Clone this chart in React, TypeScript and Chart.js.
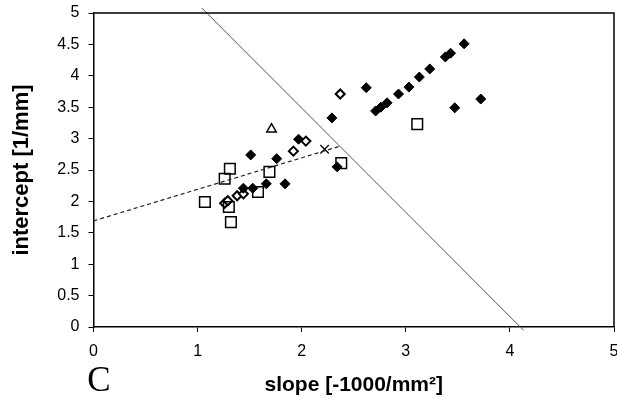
import React, { useEffect, useRef } from "react";
import { Chart, registerables } from "chart.js";

Chart.register(...registerables);

// Filled diamonds
const filledX = [1.51, 1.76, 1.66, 1.84, 1.97, 1.44, 1.53, 2.34, 2.29, 2.62, 2.71, 2.76, 2.82, 2.93, 3.03, 3.13, 3.23, 3.38, 3.43, 3.56, 3.47, 3.72];
const filledY = [2.74, 2.68, 2.28, 2.28, 2.99, 2.21, 2.21, 2.55, 3.33, 3.81, 3.44, 3.50, 3.57, 3.71, 3.82, 3.98, 4.11, 4.30, 4.36, 4.51, 3.49, 3.63];
// Open squares
const squareX = [1.31, 1.26, 1.69, 1.58, 1.07, 1.30, 1.32, 2.38, 3.11];
const squareY = [2.52, 2.36, 2.47, 2.15, 1.99, 1.91, 1.67, 2.61, 3.23];
// Open small diamonds / circles
const openX = [1.92, 2.04, 2.37, 1.38, 1.44, 1.26, 1.29];
const openY = [2.80, 2.96, 3.71, 2.09, 2.12, 1.97, 2.01];
// Triangle
const triX = [1.71];
const triY = [3.15];
// Cross
const crossX = [2.22];
const crossY = [2.83];
// Dashed regression line
const dashX = [0, 2.37];
const dashY = [1.69, 2.88];
// Solid separating line
const solidX = [1.04, 4.13];
const solidY = [5.08, -0.05];

const xTicks = [0, 1, 2, 3, 4, 5];
const yTicks = [0, 0.5, 1, 1.5, 2, 2.5, 3, 3.5, 4, 4.5, 5];

const pts = (xs: number[], ys: number[]) => xs.map((x, i) => ({ x, y: ys[i] }));

const FONT = "'Liberation Sans', Arial, sans-serif";
const CANVAS_W = 623;

const framePlugin = {
  id: "frame",
  afterDraw(chart: any) {
    const { ctx, chartArea } = chart;
    ctx.save();
    ctx.strokeStyle = "#000";
    ctx.lineWidth = 1.5;
    ctx.beginPath();
    ctx.moveTo(chartArea.left, chartArea.top);
    ctx.lineTo(chartArea.right, chartArea.top);
    ctx.lineTo(chartArea.right, chartArea.bottom);
    ctx.stroke();
    ctx.fillStyle = "#000";
    ctx.font = "35px 'Liberation Serif', 'Times New Roman', serif";
    ctx.textAlign = "center";
    ctx.textBaseline = "middle";
    ctx.fillText("C", 99, 382);
    ctx.restore();
  },
};

const zeroPad = (s: any) => {
  s.paddingTop = 0;
  s.paddingBottom = 0;
  s.paddingLeft = 0;
  s.paddingRight = 0;
};

export default function App() {
  const ref = useRef<HTMLCanvasElement>(null);

  useEffect(() => {
    if (!ref.current) return;
    const chart = new Chart(ref.current, {
      type: "scatter",
      data: {
        datasets: [
          {
            type: "line",
            data: pts(solidX, solidY),
            borderColor: "#555",
            borderWidth: 1,
            pointRadius: 0,
            clip: false as any,
          } as any,
          {
            type: "line",
            data: pts(dashX, dashY),
            borderColor: "#222",
            borderWidth: 1.2,
            borderDash: [4, 3],
            pointRadius: 0,
          } as any,
          {
            data: pts(squareX, squareY),
            pointStyle: "rect",
            pointRadius: 7.5,
            backgroundColor: "rgba(255,255,255,0)",
            borderColor: "#000",
            borderWidth: 1.5,
          },
          {
            data: pts(filledX, filledY),
            pointStyle: "rectRot",
            pointRadius: 5,
            backgroundColor: "#000",
            borderColor: "#000",
            borderWidth: 1,
          },
          {
            data: pts(openX, openY),
            pointStyle: "rectRot",
            pointRadius: 4.5,
            backgroundColor: "#fff",
            borderColor: "#000",
            borderWidth: 2,
          },
          {
            data: pts(triX, triY),
            pointStyle: "triangle",
            pointRadius: 5.5,
            backgroundColor: "#fff",
            borderColor: "#000",
            borderWidth: 1.5,
          },
          {
            data: pts(crossX, crossY),
            pointStyle: "crossRot",
            pointRadius: 6,
            borderColor: "#000",
            borderWidth: 1.2,
          },
        ],
      },
      options: {
        animation: false,
        responsive: false,
        events: [],
        layout: { padding: { top: 13, right: 4, left: 0, bottom: 0 } },
        plugins: { legend: { display: false }, tooltip: { enabled: false } },
        scales: {
          x: {
            type: "linear",
            min: 0,
            max: 5,
            afterBuildTicks: (s: any) => {
              s.ticks = xTicks.map((v) => ({ value: v }));
            },
            afterFit: (s: any) => {
              s.height = 408 - 327;
              zeroPad(s);
            },
            ticks: {
              color: "#000",
              font: { family: FONT, size: 16 },
              padding: 10,
              callback: (v: any) => String(v),
            },
            grid: {
              display: true,
              drawOnChartArea: false,
              drawTicks: true,
              tickLength: 5,
              color: "#000",
              lineWidth: 1,
            },
            border: { display: true, color: "#000", width: 1.5 },
            title: {
              display: true,
              text: "slope [-1000/mm²]",
              color: "#000",
              font: { family: FONT, size: 21, weight: "bold" },
              padding: { top: 0, bottom: 10 },
            },
          },
          y: {
            type: "linear",
            min: 0,
            max: 5,
            afterBuildTicks: (s: any) => {
              s.ticks = yTicks.map((v) => ({ value: v }));
            },
            afterFit: (s: any) => {
              s.width = 93.5;
              zeroPad(s);
            },
            ticks: {
              color: "#000",
              font: { family: FONT, size: 16 },
              padding: 9,
              callback: (v: any) => String(v),
            },
            grid: {
              display: true,
              drawOnChartArea: false,
              drawTicks: true,
              tickLength: 5,
              color: "#000",
              lineWidth: 1,
            },
            border: { display: true, color: "#000", width: 1.5 },
            title: {
              display: true,
              text: "intercept [1/mm]",
              color: "#000",
              font: { family: FONT, size: 22, weight: "bold" },
              padding: { top: 9, bottom: 0 },
            },
          },
        },
      },
      plugins: [framePlugin],
    });
    return () => chart.destroy();
  }, []);

  return (
    <div style={{ position: "fixed", left: 0, top: 0, width: 617, height: 408, overflow: "hidden", background: "#fff" }}>
      <canvas ref={ref} width={CANVAS_W} height={408} style={{ width: CANVAS_W, height: 408, display: "block" }} />
    </div>
  );
}
